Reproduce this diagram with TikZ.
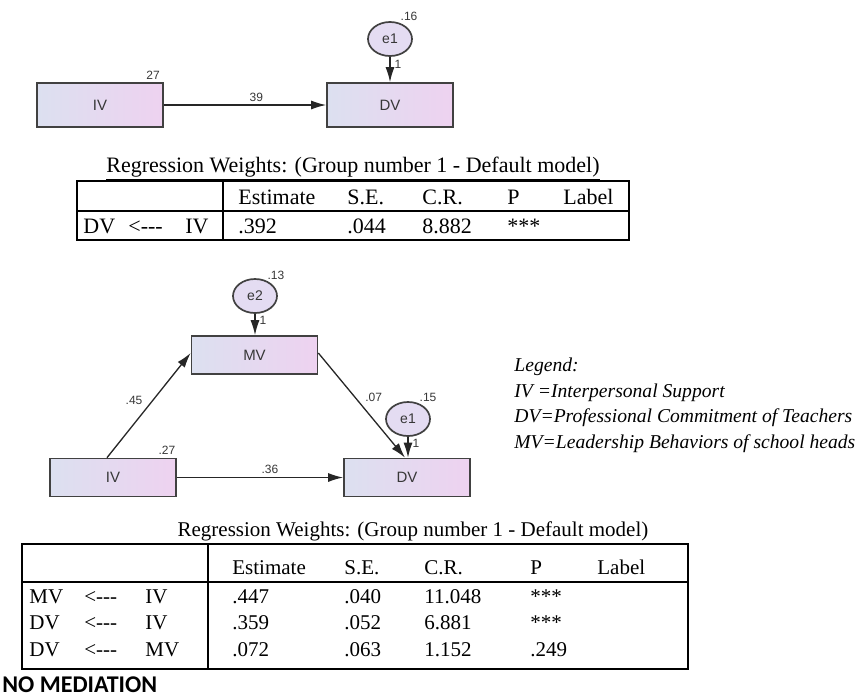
\documentclass[tikz,border=0pt]{standalone}
\usepackage{fontspec}
\setmainfont{Liberation Serif}
\setsansfont{Liberation Sans}
\newfontfamily\calibrifont{Carlito}
\usetikzlibrary{shapes.geometric, arrows.meta, positioning}
\usepackage{xcolor}
\definecolor{boxleft}{RGB}{220,224,240}
\definecolor{boxright}{RGB}{238,210,240}
\definecolor{errfill}{RGB}{228,220,242}
\definecolor{edgegray}{RGB}{65,65,65}
\definecolor{txtgray}{RGB}{55,55,55}
\tikzstyle{var} = [rectangle, minimum width=63pt, minimum height=22pt, inner sep=0pt,
    draw=edgegray, line width=0.85pt, left color=boxleft, right color=boxright,
    text=txtgray, font=\sffamily\fontsize{7.5}{8}\selectfont]
\tikzstyle{varsm} = [var, minimum height=19pt]
\tikzstyle{err} = [ellipse, minimum width=22pt, minimum height=17pt, inner sep=0pt,
    draw=edgegray, line width=0.85pt, fill=errfill, text=txtgray,
    font=\sffamily\fontsize{7}{8}\selectfont]
\tikzstyle{arrow} = [line width=0.65pt, draw=black!85, -{Latex[length=7.5pt,width=4.5pt]}]
\tikzstyle{est} = [inner sep=0pt, text=txtgray, font=\sffamily\fontsize{6}{7}\selectfont]
\tikzstyle{cell} = [anchor=base west, inner sep=0pt, font=\fontsize{11}{13}\selectfont]
\tikzstyle{cellsm} = [cell, font=\fontsize{10.5}{12}\selectfont]
\tikzstyle{rule} = [line width=0.6pt, draw=black]
\tikzstyle{legend} = [anchor=base west, inner sep=0pt, font=\itshape\fontsize{9.8}{12}\selectfont]

\begin{document}
\begin{tikzpicture}[x=0.5pt, y=-0.5pt]
\useasboundingbox (0,0) rectangle (856,697);

% --- modelo directo ---
\node (iva) [var] at (100,105) {IV};
\node (dva) [var] at (390,105) {DV};
\node (erra) [err] at (390,39) {e1};
\node (vara) [est] at (153,75) {27};
\node (vard) [est] at (409,16) {.16};
\draw[arrow] (iva) -- node[est, pos=0.57, above=1.5pt]{39} (dva);
\draw[arrow] (erra.south) -- node[est, pos=0.3, right=2pt]{1} (erra.south |- dva.north);

% --- tabla 1 ---
\node (titlea) [cell, anchor=base] at (353,172) {\underline{Regression Weights: (Group number 1 - Default model)}};
\draw[rule] (77,181) rectangle (629,240);
\draw[rule] (77,211) -- (629,211);
\draw[rule] (223,181) -- (223,240);
\node [cell] at (238,204) {Estimate};
\node [cell] at (347,204) {S.E.};
\node [cell] at (422,204) {C.R.};
\node [cell] at (507,204) {P};
\node [cell] at (563,204) {Label};
\node [cell] at (83,233) {DV};
\node [cell] at (128,233) {<-{}-{}-};
\node [cell] at (185,233) {IV};
\node [cell] at (238,233) {.392};
\node [cell] at (347,233) {.044};
\node [cell] at (422,233) {8.882};
\node [cell] at (507,233) {***};

% --- modelo de mediacion ---
\node (mv) [varsm] at (254.5,355) {MV};
\node (ivb) [varsm] at (113,477.5) {IV};
\node (dvb) [varsm] at (407,477.5) {DV};
\node (errb) [err] at (255,296) {e2};
\node (errc) [err] at (408,419) {e1};
\node (varb) [est] at (276,275) {.13};
\node (varc) [est] at (167,450) {.27};
\node (vare) [est] at (428,397) {.15};
\draw[arrow] ([xshift=-3pt]ivb.north) -- node[est, pos=0.55, left=5pt]{.45} ([yshift=1pt]mv.west);
\draw[arrow] ([yshift=1pt]mv.east) -- node[est, pos=0.42, right=5pt]{.07} ([xshift=-1pt]dvb.north);
\draw[arrow] (ivb) -- node[est, pos=0.56, above=1.5pt]{.36} (dvb);
\draw[arrow] (errb.south) -- node[est, pos=0.3, right=2pt]{1} (errb.south |- mv.north);
\draw[arrow] (errc.south) -- node[est, pos=0.3, right=2pt]{1} (errc.south |- dvb.north);

% --- leyenda ---
\node [legend] at (514,371) {Legend:};
\node [legend] at (514,397) {IV =Interpersonal Support};
\node [legend] at (514,422) {DV=Professional Commitment of Teachers};
\node [legend] at (514,448) {MV=Leadership Behaviors of school heads};

% --- tabla 2 ---
\node (titleb) [cellsm, anchor=base] at (413,536) {\underline{Regression Weights: (Group number 1 - Default model)}};
\draw[rule] (22,544) rectangle (688,669);
\draw[rule] (22,582) -- (688,582);
\draw[rule] (208,544) -- (208,669);
\node [cellsm] at (232,574) {Estimate};
\node [cellsm] at (344,574) {S.E.};
\node [cellsm] at (424,574) {C.R.};
\node [cellsm] at (530,574) {P};
\node [cellsm] at (597,574) {Label};
\node [cellsm] at (29,603) {MV};
\node [cellsm] at (84,603) {<-{}-{}-};
\node [cellsm] at (145,603) {IV};
\node [cellsm] at (232,603) {.447};
\node [cellsm] at (344,603) {.040};
\node [cellsm] at (424,603) {11.048};
\node [cellsm] at (530,603) {***};
\node [cellsm] at (29,629) {DV};
\node [cellsm] at (84,629) {<-{}-{}-};
\node [cellsm] at (145,629) {IV};
\node [cellsm] at (232,629) {.359};
\node [cellsm] at (344,629) {.052};
\node [cellsm] at (424,629) {6.881};
\node [cellsm] at (530,629) {***};
\node [cellsm] at (29,656) {DV};
\node [cellsm] at (84,656) {<-{}-{}-};
\node [cellsm] at (145,656) {MV};
\node [cellsm] at (232,656) {.072};
\node [cellsm] at (344,656) {.063};
\node [cellsm] at (424,656) {1.152};
\node [cellsm] at (530,656) {.249};

\node (nomed) [anchor=base west, inner sep=0pt, font=\calibrifont\bfseries\fontsize{12}{14}\selectfont] at (2,692) {NO MEDIATION};
\end{tikzpicture}
\end{document}
